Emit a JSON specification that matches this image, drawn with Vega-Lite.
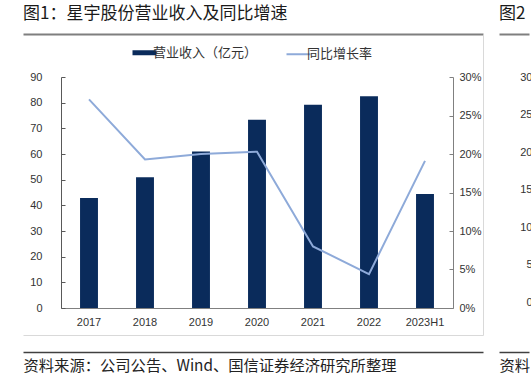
{
  "$schema": "https://vega.github.io/schema/vega-lite/v6.json",
  "padding": {"left": 20, "top": 5, "right": 0, "bottom": 0},
  "spacing": 13,
  "data": {"values": [
    {"year": "2017", "revenue": 42.9, "growth": 0.271},
    {"year": "2018", "revenue": 50.9, "growth": 0.193},
    {"year": "2019", "revenue": 61.0, "growth": 0.200},
    {"year": "2020", "revenue": 73.3, "growth": 0.203},
    {"year": "2021", "revenue": 79.2, "growth": 0.080},
    {"year": "2022", "revenue": 82.5, "growth": 0.044},
    {"year": "2023H1", "revenue": 44.4, "growth": 0.191}
  ]},
  "resolve": {"scale": {"color": "independent"}, "legend": {"color": "independent"}},
  "hconcat": [
    {
      "width": 460,
      "height": 301,
      "title": {"text": "图1：星宇股份营业收入及同比增速", "anchor": "start", "frame": "group", "font": "Noto Sans CJK SC", "fontSize": 17, "fontWeight": "normal", "color": "#1a1a1a", "offset": 11},
      "layer": [
        {
          "mark": {"type": "bar"},
          "encoding": {
            "x": {"field": "year", "type": "nominal", "sort": null,
              "scale": {"domain": ["2017", "2018", "2019", "2020", "2021", "2022", "2023H1"], "range": [38, 430], "paddingInner": 0.68, "paddingOuter": 0.34},
              "axis": {"orient": "bottom", "offset": -27, "title": null, "ticks": false, "tickSize": 0, "labelPadding": 8, "labelAngle": 0, "labelFont": "Liberation Sans", "labelFontSize": 11, "labelColor": "#333333", "domainColor": "#808080", "domainWidth": 1, "grid": false}},
            "y": {"field": "revenue", "type": "quantitative",
              "scale": {"domain": [0, 90], "range": [274, 43], "nice": false, "zero": true},
              "axis": {"orient": "left", "offset": -38, "values": [0, 10, 20, 30, 40, 50, 60, 70, 80, 90], "title": null, "grid": false, "tickSize": -4, "labelPadding": 23, "tickColor": "#595959", "domainColor": "#595959", "labelFont": "Liberation Sans", "labelFontSize": 11, "labelColor": "#333333"}},
            "color": {"datum": "营业收入（亿元）", "type": "nominal",
              "scale": {"domain": ["营业收入（亿元）", "同比增长率"], "range": ["#0a2b5b", "#8eaad9"]},
              "legend": {"title": null, "orient": "none", "legendX": 115, "legendY": 12, "direction": "horizontal", "symbolType": "stroke", "symbolSize": 576, "symbolStrokeWidth": 2, "labelFont": "Noto Sans CJK SC", "labelFontSize": 13, "labelColor": "#333333", "labelOffset": 2, "columnPadding": 24,
                "encode": {"symbols": {"update": {"stroke": {"scale": "color", "field": "value"}, "strokeWidth": {"signal": "datum.value === '营业收入（亿元）' ? 5 : 2"}}}}}}
          }
        },
        {
          "mark": {"type": "line", "strokeWidth": 2},
          "encoding": {
            "x": {"field": "year", "type": "nominal", "sort": null,
              "scale": {"domain": ["2017", "2018", "2019", "2020", "2021", "2022", "2023H1"], "range": [38, 430], "paddingInner": 0.68, "paddingOuter": 0.34},
              "axis": null},
            "y": {"field": "growth", "type": "quantitative",
              "scale": {"domain": [0, 0.3], "range": [274, 43], "nice": false},
              "axis": {"orient": "right", "offset": -30, "format": ".0%", "values": [0, 0.05, 0.1, 0.15, 0.2, 0.25, 0.3], "title": null, "grid": false, "tickSize": -4, "labelPadding": 10, "tickColor": "#808080", "domainColor": "#808080", "labelFont": "Liberation Sans", "labelFontSize": 11, "labelColor": "#333333"}},
            "color": {"datum": "同比增长率", "type": "nominal"}
          }
        },
        {
          "mark": {"type": "point", "opacity": 0},
          "encoding": {
            "x": {"datum": 0, "type": "quantitative", "scale": {"domain": [0, 1]},
              "axis": {"orient": "top", "labels": false, "ticks": false, "grid": false, "title": null, "domainColor": "#7f7f7f", "domainWidth": 2}},
            "y": {"datum": 0, "type": "quantitative", "scale": {"domain": [0, 1]},
              "axis": {"orient": "right", "labels": false, "ticks": false, "grid": false, "title": null, "domainColor": "#d9d9d9", "domainWidth": 1}}
          }
        },
        {
          "mark": {"type": "point", "opacity": 0},
          "encoding": {
            "x": {"datum": 0, "type": "quantitative", "scale": {"domain": [0, 1]},
              "axis": {"orient": "bottom", "labels": false, "ticks": false, "grid": false, "title": null, "domainColor": "#d9d9d9", "domainWidth": 1}}
          }
        },
        {
          "mark": {"type": "point", "opacity": 0},
          "encoding": {
            "x": {"datum": 0, "type": "quantitative", "scale": {"domain": [0, 1]},
              "axis": {"orient": "bottom", "offset": 17, "labels": false, "ticks": false, "grid": false, "domainColor": "#404040", "domainWidth": 1.5,
                "title": "资料来源：公司公告、Wind、国信证券经济研究所整理", "titleAnchor": "start", "titleAlign": "left", "titleBaseline": "top", "titlePadding": 6, "titleFont": "Noto Sans CJK SC", "titleFontSize": 15.3, "titleFontWeight": "normal", "titleColor": "#222222"}}
          }
        }
      ],
      "resolve": {"scale": {"x": "independent", "y": "independent"}, "axis": {"x": "independent", "y": "independent"}}
    },
    {
      "width": 30,
      "height": 301,
      "title": {"text": "图2", "anchor": "start", "frame": "group", "font": "Noto Sans CJK SC", "fontSize": 17, "fontWeight": "normal", "color": "#1a1a1a", "offset": 11},
      "layer": [
        {
          "mark": {"type": "point", "opacity": 0},
          "encoding": {
            "x": {"datum": 0, "type": "quantitative", "scale": {"domain": [0, 1]},
              "axis": {"orient": "top", "labels": false, "ticks": false, "grid": false, "title": null, "domainColor": "#7f7f7f", "domainWidth": 2}},
            "y": {"datum": 0, "type": "quantitative", "scale": {"domain": [0, 30], "range": [268, 43], "nice": false},
              "axis": {"orient": "left", "offset": -33, "values": [0, 5, 10, 15, 20, 25, 30], "domain": false, "ticks": false, "tickSize": 0, "labelPadding": 0, "grid": false, "title": null, "labelFont": "Liberation Sans", "labelFontSize": 11, "labelColor": "#333333"}}
          }
        },
        {
          "mark": {"type": "point", "opacity": 0},
          "encoding": {
            "x": {"datum": 0, "type": "quantitative", "scale": {"domain": [0, 1]},
              "axis": {"orient": "bottom", "offset": 17, "labels": false, "ticks": false, "grid": false, "domainColor": "#404040", "domainWidth": 1.5,
                "title": "资料", "titleAnchor": "start", "titleAlign": "left", "titleBaseline": "top", "titlePadding": 6, "titleFont": "Noto Sans CJK SC", "titleFontSize": 15.3, "titleFontWeight": "normal", "titleColor": "#222222"}}
          }
        }
      ],
      "resolve": {"scale": {"x": "independent", "y": "independent"}, "axis": {"x": "independent", "y": "independent"}}
    }
  ],
  "config": {
    "view": {"stroke": null},
    "axis": {"grid": false}
  }
}
